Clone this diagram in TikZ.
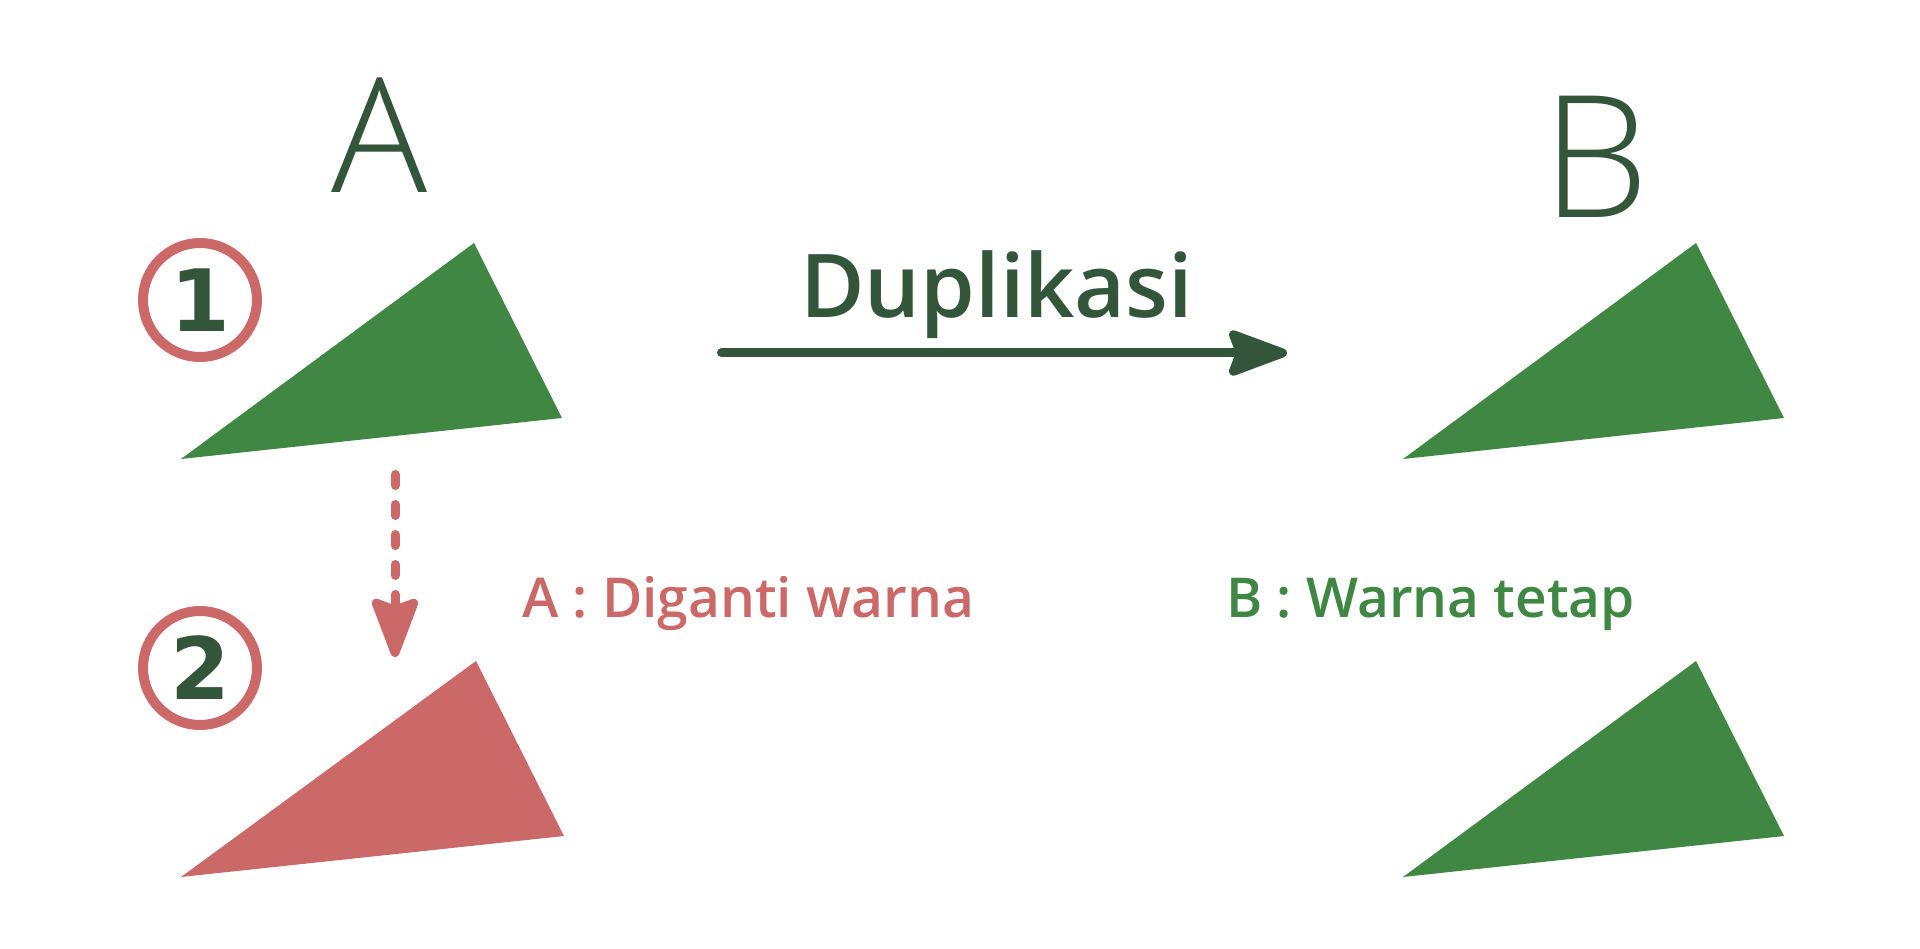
\documentclass[tikz,border=0pt]{standalone}
\usepackage{fontspec}
\setmainfont{Open Sans}[BoldFont={Open Sans Semibold}]
\newfontfamily\lightfont{Open Sans Light}
\newfontfamily\digitfont{DejaVu Sans}[BoldFont={DejaVu Sans Bold}]
\usetikzlibrary{arrows.meta,positioning}
\definecolor{leafgreen}{HTML}{3F8743}
\definecolor{darkgreen}{HTML}{335539}
\definecolor{rosered}{HTML}{CB6868}

\begin{document}
\begin{tikzpicture}[x=1pt,y=-1pt,
    numring/.style={circle,draw=rosered,line width=10pt,minimum size=114pt,inner sep=0pt,
      text=darkgreen,font=\digitfont\bfseries\fontsize{86}{86}\selectfont},
    bigletter/.style={text=darkgreen,font=\lightfont\fontsize{160}{160}\selectfont,anchor=base,inner sep=0pt},
    note/.style={font=\bfseries\fontsize{55}{55}\selectfont,anchor=base west,inner sep=0pt}]
    \useasboundingbox (0,0) rectangle (1920,949);
    % triangles
    \fill[leafgreen] (181,459) -- (474,243) -- (562,418) -- cycle;
    \fill[rosered] (181,877) -- (476,661) -- (564,836) -- cycle;
    \fill[leafgreen] (1403,459) -- (1696,243) -- (1784,418) -- cycle;
    \fill[leafgreen] (1403,877) -- (1696,661) -- (1784,836) -- cycle;
    % labels
    \node[bigletter] (labA) at (380,193) {A};
    \node[bigletter,font=\lightfont\fontsize{170}{170}\selectfont] (labB) at (1596,218) {B};
    \node[numring] (one) at (200,300) {1};
    \node[numring] (two) at (200,668) {2};
    \node[note,text=darkgreen,font=\bfseries\fontsize{88}{88}\selectfont] (dup) at (800,318) {Duplikasi};
    \node[note,text=rosered] (noteA) at (522,617) {A : Diganti warna};
    \node[note,text=leafgreen] (noteB) at (1226,617) {B : Warna tetap};
    % arrows
    \coordinate (dupS) at (721.5,353);
    \coordinate (dupE) at (1287,353);
    \coordinate (chgS) at (395,474.5);
    \coordinate (chgE) at (395,657);
    \draw[darkgreen,line width=9pt,line cap=round,
      -{Stealth[length=69pt,width=50pt,inset=9pt,round]}] (dupS) -- (dupE);
    \draw[rosered,line width=9pt,line cap=round,dash pattern=on 11pt off 19pt,
      -{Stealth[length=69pt,width=51pt,inset=9pt,round]}] (chgS) -- (chgE);
\end{tikzpicture}
\end{document}
